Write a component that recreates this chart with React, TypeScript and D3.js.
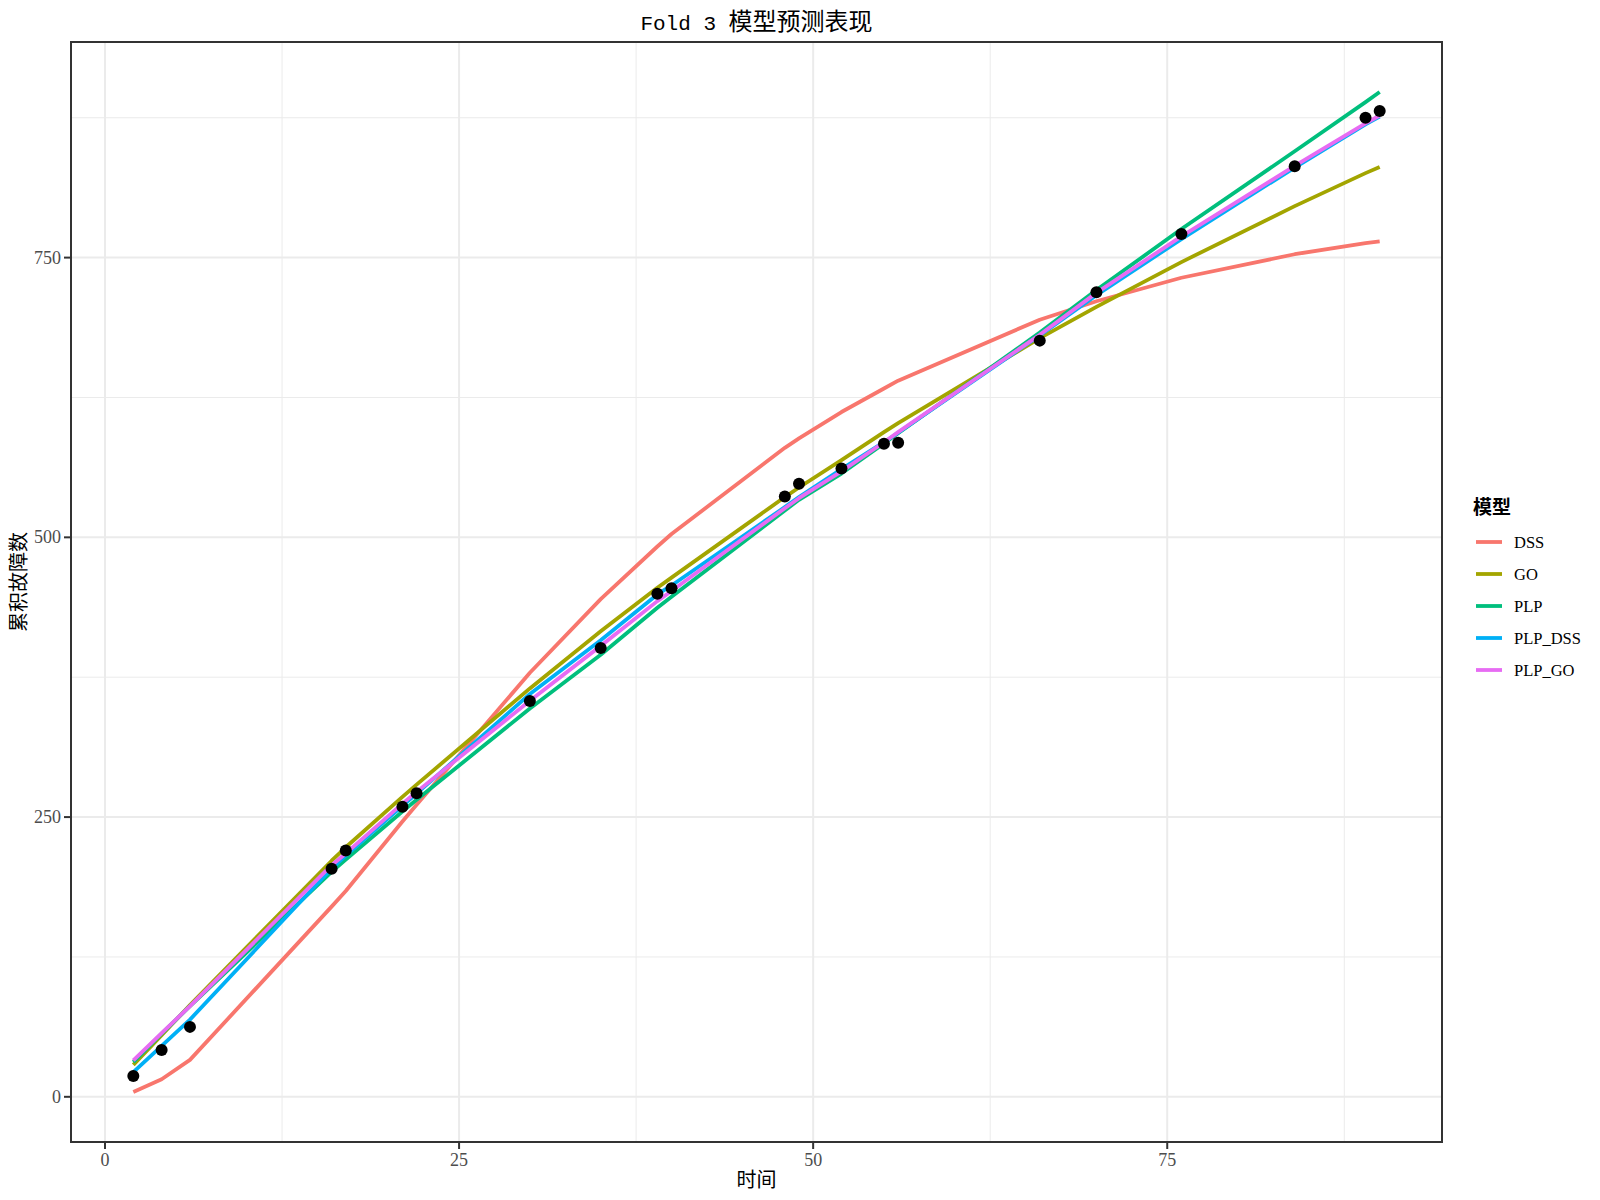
import React from "react";
import * as d3 from "d3";

const times = [2, 4, 6, 16, 17, 21, 22, 30, 35, 39, 40, 48, 49, 52, 55, 56, 66, 70, 76, 84, 89, 90];
const observed = [18.5, 41.8, 62.5, 203.8, 220.2, 259.2, 271.2, 353.8, 401, 449.5, 454.5, 536.5, 547.8, 561.5, 583.6, 584.5, 675.8, 719, 771, 831.7, 875, 881];

const dssValues = [4.3, 15.7, 33, 170, 184, 246, 261, 379, 444.8, 491.8, 503, 580, 588.5, 612, 633, 640, 694.5, 711, 732, 753, 763, 764.5];
const goValues = [28.5, 55, 82, 211, 223, 268, 279, 365, 416, 455, 464, 536, 544.5, 569, 594, 602, 678, 706, 746, 796, 825.5, 831];
const plpValues = [31, 56.5, 81, 201, 212, 255, 265.5, 347, 395, 437, 447, 524, 533.5, 557, 584, 593, 683, 721, 775.5, 845, 889, 898];
const plpDssValues = [22, 45.5, 69, 204, 215.5, 260, 271, 360, 408, 449, 457, 527, 536, 561, 585, 593.5, 680.5, 716.5, 766.5, 830.5, 869, 876];
const plpGoValues = [32.5, 57, 81, 207, 217.5, 262, 272.5, 354, 403, 443, 452, 526, 535, 559, 585, 594, 681, 718.5, 769, 832, 870, 877];

const modelNames = ["DSS", "GO", "PLP", "PLP_DSS", "PLP_GO"];
const modelColors = ["#F8766D", "#A3A500", "#00BF7D", "#00B0F6", "#E76BF3"];
const modelSeries = [dssValues, goValues, plpValues, plpDssValues, plpGoValues];

const xTicks = [0, 25, 50, 75];
const xMinor = [12.5, 37.5, 62.5, 87.5];
const yTicks = [0, 250, 500, 750];
const yMinor = [125, 375, 625, 875];

const titleLatin = "Fold 3 ";
const titleCjk = "模型预测表现";
const xTitle = "时间";
const yTitle = "累积故障数";
const legendTitle = "模型";

export default function App() {
  const panel = { left: 71, right: 1442, top: 42, bottom: 1142 };
  const xMinD = d3.min(times)!;
  const xMaxD = d3.max(times)!;
  const xPad = (xMaxD - xMinD) * 0.05;
  const allY = [...observed, ...modelSeries.flat()];
  const yMinD = d3.min(allY)!;
  const yMaxD = d3.max(allY)!;
  const yPad = (yMaxD - yMinD) * 0.05;

  const x = d3.scaleLinear().domain([xMinD - xPad, xMaxD + xPad]).range([panel.left, panel.right]);
  const y = d3.scaleLinear().domain([yMinD - yPad, yMaxD + yPad]).range([panel.bottom, panel.top]);

  const line = d3
    .line<number>()
    .x((_, i) => x(times[i]))
    .y((v) => y(v));

  const serif = "'Liberation Serif', 'DejaVu Serif', serif";
  const cjk = "'Noto Sans CJK SC', sans-serif";
  const cx = (panel.left + panel.right) / 2;

  return (
    <svg width={1600} height={1200} style={{ position: "absolute", left: 0, top: 0, background: "#fff" }}>
      <rect x={0} y={0} width={1600} height={1200} fill="#fff" />
      <text x={cx} y={30} textAnchor="middle" fill="#000">
        <tspan fontFamily="'Liberation Mono', monospace" fontSize={21}>{titleLatin}</tspan>
        <tspan fontFamily={cjk} fontSize={24}>{titleCjk}</tspan>
      </text>

      <g>
        {xMinor.map((t) => (
          <line key={"xm" + t} x1={x(t)} x2={x(t)} y1={panel.top} y2={panel.bottom} stroke="#EBEBEB" strokeWidth={1} />
        ))}
        {yMinor.map((t) => (
          <line key={"ym" + t} x1={panel.left} x2={panel.right} y1={y(t)} y2={y(t)} stroke="#EBEBEB" strokeWidth={1} />
        ))}
        {xTicks.map((t) => (
          <line key={"xg" + t} x1={x(t)} x2={x(t)} y1={panel.top} y2={panel.bottom} stroke="#EBEBEB" strokeWidth={2} />
        ))}
        {yTicks.map((t) => (
          <line key={"yg" + t} x1={panel.left} x2={panel.right} y1={y(t)} y2={y(t)} stroke="#EBEBEB" strokeWidth={2} />
        ))}
      </g>

      <g fill="none" strokeWidth={3.8} strokeLinejoin="round" strokeLinecap="butt">
        {modelSeries.map((vals, i) => (
          <path key={modelNames[i]} d={line(vals) || ""} stroke={modelColors[i]} />
        ))}
      </g>

      <g>
        {observed.map((v, i) => (
          <circle key={i} cx={x(times[i])} cy={y(v)} r={6} fill="#000" />
        ))}
      </g>

      <rect
        x={panel.left}
        y={panel.top}
        width={panel.right - panel.left}
        height={panel.bottom - panel.top}
        fill="none"
        stroke="#333333"
        strokeWidth={2}
      />

      <g>
        {xTicks.map((t) => (
          <g key={"xt" + t}>
            <line x1={x(t)} x2={x(t)} y1={panel.bottom} y2={panel.bottom + 7} stroke="#333333" strokeWidth={2} />
            <text x={x(t)} y={panel.bottom + 24} textAnchor="middle" fontFamily={serif} fontSize={18} fill="#4D4D4D">
              {t}
            </text>
          </g>
        ))}
        {yTicks.map((t) => (
          <g key={"yt" + t}>
            <line x1={panel.left - 7} x2={panel.left} y1={y(t)} y2={y(t)} stroke="#333333" strokeWidth={2} />
            <text x={panel.left - 10} y={y(t) + 6} textAnchor="end" fontFamily={serif} fontSize={18} fill="#4D4D4D">
              {t}
            </text>
          </g>
        ))}
      </g>

      <text x={cx} y={1187} textAnchor="middle" fontFamily={cjk} fontSize={20} fill="#000">
        {xTitle}
      </text>
      <text
        transform={`translate(26, 582) rotate(-90)`}
        textAnchor="middle"
        fontFamily={cjk}
        fontSize={20}
        fill="#000"
      >
        {yTitle}
      </text>

      <g>
        <text x={1473} y={514} fontFamily={cjk} fontSize={19} fontWeight="bold" fill="#000">
          {legendTitle}
        </text>
        {modelNames.map((name, i) => {
          const ly = 542 + i * 32;
          return (
            <g key={"lg" + name}>
              <line x1={1476} x2={1502} y1={ly} y2={ly} stroke={modelColors[i]} strokeWidth={3.8} />
              <text x={1514} y={ly + 6} fontFamily={serif} fontSize={16.5} fill="#000">
                {name}
              </text>
            </g>
          );
        })}
      </g>
    </svg>
  );
}
